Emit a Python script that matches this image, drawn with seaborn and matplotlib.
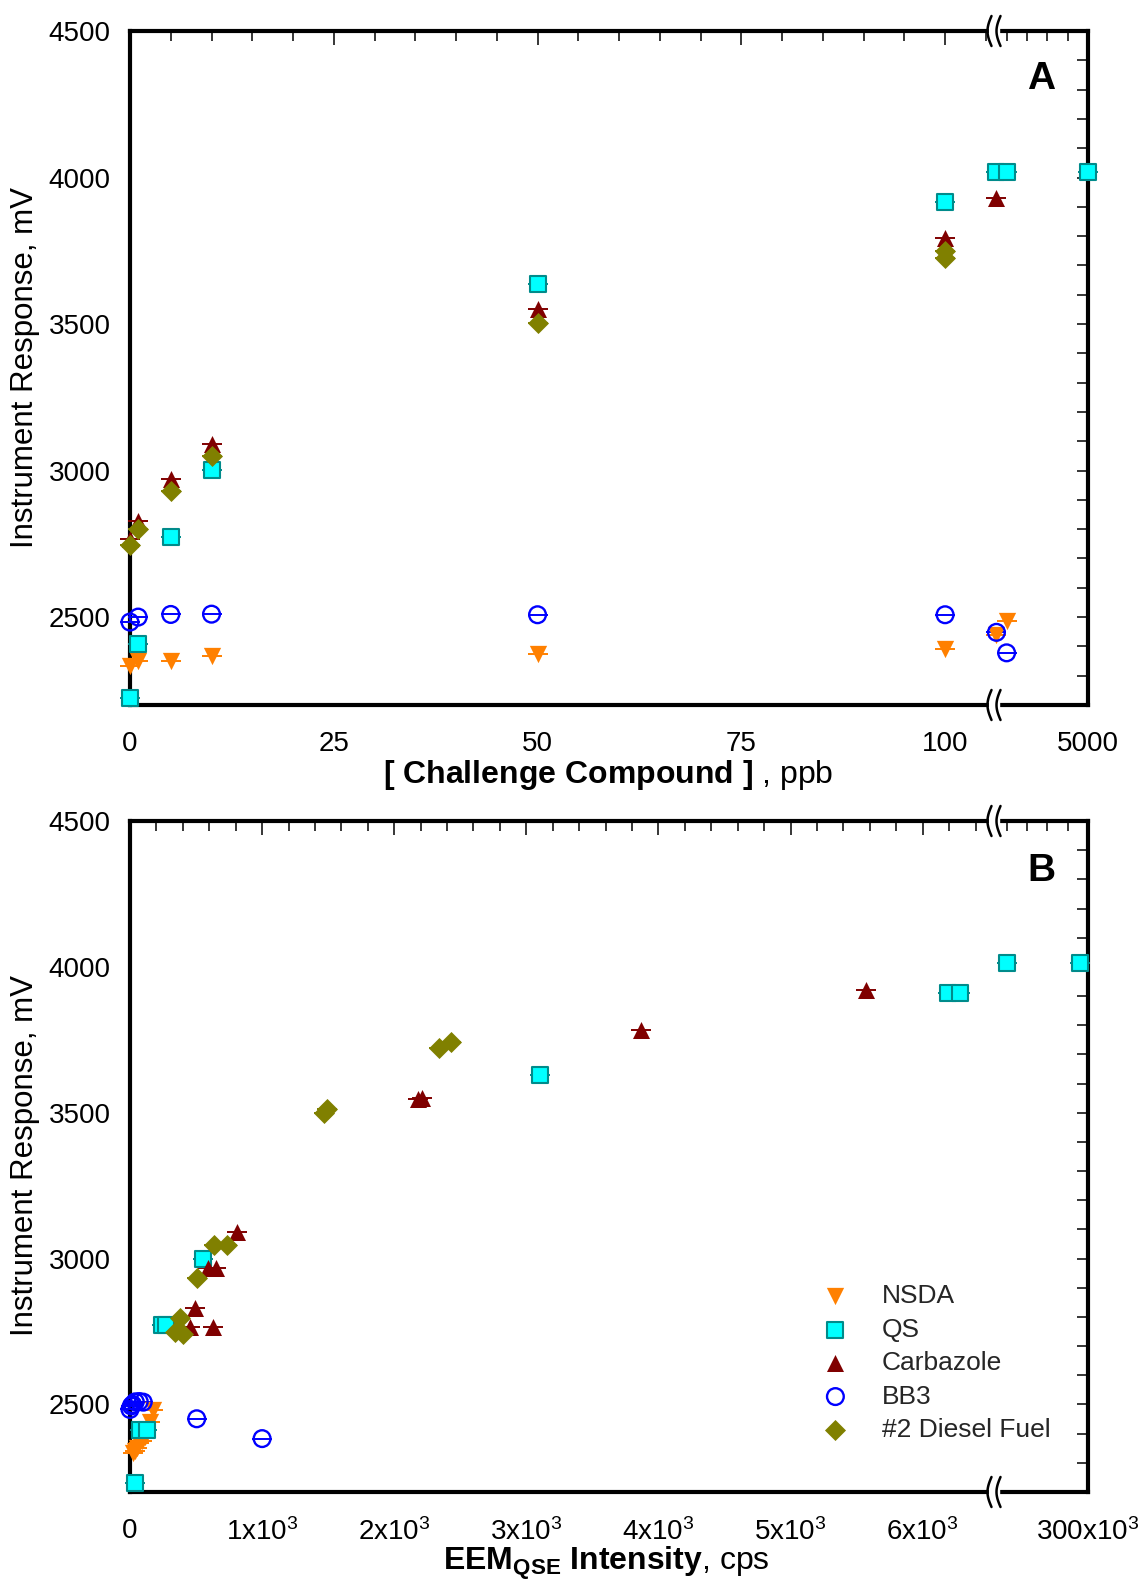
import numpy as np
import matplotlib
matplotlib.use("Agg")
import matplotlib.pyplot as plt
import seaborn as sns
from matplotlib.ticker import MultipleLocator, FixedLocator, NullFormatter, FuncFormatter
from matplotlib.lines import Line2D
from matplotlib.patches import Rectangle

sns.set_theme(style="white")
plt.rcParams['font.family'] = ['Liberation Sans', 'DejaVu Sans']
plt.rcParams['mathtext.fontset'] = 'custom'
plt.rcParams['mathtext.rm'] = 'Liberation Sans'
plt.rcParams['mathtext.bf'] = 'Liberation Sans:bold'
plt.rcParams['mathtext.it'] = 'Liberation Sans:italic'

# ---- panel A: response vs concentration (ppb) ----
a_nsda_x = [0, 1, 5, 10, 50, 100, 500, 1000]
a_nsda_y = [2333, 2350, 2350, 2368, 2375, 2390, 2440, 2485]
a_qs_x = [0, 1, 5, 10, 50, 100, 500, 1000, 5000]
a_qs_y = [2224, 2409, 2772, 3002, 3635, 3917, 4020, 4020, 4020]
a_carb_x = [0, 1, 5, 10, 50, 100, 500]
a_carb_y = [2765, 2828, 2971, 3092, 3552, 3792, 3930]
a_bb3_x = [0, 1, 5, 10, 50, 100, 500, 1000]
a_bb3_y = [2483, 2500, 2509, 2510, 2508, 2508, 2448, 2378]
a_dsl_x = [0, 1, 5, 10, 50, 100, 100]
a_dsl_y = [2747, 2799, 2931, 3051, 3504, 3725, 3750]

# ---- panel B: response vs EEM_QSE intensity (cps) ----
b_nsda_x = [25, 40, 50, 70, 90, 110, 150, 175]
b_nsda_y = [2333, 2340, 2352, 2368, 2375, 2390, 2440, 2480]
b_qs_x = [38, 76, 126, 240, 275, 556, 3105, 6190, 6280, 100000, 280000]
b_qs_y = [2230, 2412, 2412, 2774, 2774, 3000, 3630, 3912, 3912, 4014, 4014]
b_carb_x = [456, 494, 630, 592, 653, 810, 2180, 2210, 3867, 5573]
b_carb_y = [2767, 2832, 2764, 2969, 2969, 3092, 3548, 3552, 3784, 3921]
b_bb3_x = [0, 10, 20, 40, 70, 100, 505, 1000]
b_bb3_y = [2483, 2495, 2500, 2509, 2510, 2508, 2451, 2383]
b_dsl_x = [342, 380, 403, 506, 633, 734, 1466, 1490, 2341, 2430]
b_dsl_y = [2750, 2798, 2740, 2935, 3048, 3048, 3500, 3512, 3721, 3744]

names = ["NSDA", "QS", "Carbazole", "BB3", "#2 Diesel Fuel"]
styles = {
    "NSDA": dict(marker="v", s=155, color="#FF8000", edgecolor="#FF8000", linewidth=0),
    "QS": dict(marker="s", s=130, color="#00FFFF", edgecolor="#008B8B", linewidth=1.5),
    "Carbazole": dict(marker="^", s=150, color="#800000", edgecolor="#800000", linewidth=0),
    "BB3": dict(marker="o", s=145, facecolor="none", edgecolor="#0000FF", linewidth=1.7),
    "#2 Diesel Fuel": dict(marker="D", s=115, color="#808000", edgecolor="#808000", linewidth=0),
}
whisker_col = {"NSDA": "#FF8000", "QS": "#008B8B", "Carbazole": "#800000",
               "BB3": "#0000FF", "#2 Diesel Fuel": "#808000"}

panel_a = {"NSDA": (a_nsda_x, a_nsda_y), "QS": (a_qs_x, a_qs_y), "Carbazole": (a_carb_x, a_carb_y),
           "BB3": (a_bb3_x, a_bb3_y), "#2 Diesel Fuel": (a_dsl_x, a_dsl_y)}
panel_b = {"NSDA": (b_nsda_x, b_nsda_y), "QS": (b_qs_x, b_qs_y), "Carbazole": (b_carb_x, b_carb_y),
           "BB3": (b_bb3_x, b_bb3_y), "#2 Diesel Fuel": (b_dsl_x, b_dsl_y)}

W, H = 1143, 1584
fig = plt.figure(figsize=(W / 100, H / 100), dpi=100)

XL, XB, XR = 130, 994, 1088  # pixel columns: left edge, break, right edge


def fmt_k(v, pos):
    if abs(v) < 1e-9:
        return "0"
    return f"{int(round(v / 1000))}x10$^3$"


def style(ax, left_part):
    for s in ax.spines.values():
        s.set_linewidth(3)
        s.set_color("black")
    ax.set_facecolor("none")
    ax.tick_params(axis="x", which="major", direction="inout", length=14, width=1.3,
                   labelsize=20, pad=12, top=False, colors="black")
    ax.tick_params(axis="x", which="minor", direction="in", length=7, width=1.3, top=False)
    if left_part:
        ax.spines["right"].set_visible(False)
        ax.tick_params(axis="y", which="major", direction="inout", length=14, width=1.3,
                       labelsize=20, pad=7, right=False, colors="black")
        ax.tick_params(axis="y", which="minor", direction="inout", length=9, width=1.3, right=False)
        ax.yaxis.set_major_locator(MultipleLocator(500))
        ax.yaxis.set_minor_locator(MultipleLocator(100))
    else:
        ax.spines["left"].set_visible(False)
        ax.yaxis.tick_right()
        ax.yaxis.set_major_locator(MultipleLocator(500))
        ax.yaxis.set_minor_locator(MultipleLocator(100))
        ax.tick_params(axis="y", which="major", direction="in", length=8, width=1.3,
                       labelright=False, left=False)
        ax.tick_params(axis="y", which="minor", direction="in", length=8, width=1.3, left=False)
    sec = ax.secondary_xaxis("top")
    sec.xaxis.set_major_locator(ax.xaxis.get_major_locator())
    sec.xaxis.set_minor_locator(ax.xaxis.get_minor_locator())
    sec.xaxis.set_major_formatter(NullFormatter())
    sec.tick_params(which="major", direction="in", length=10, width=1.3)
    sec.tick_params(which="minor", direction="in", length=7, width=1.3)
    for s in sec.spines.values():
        s.set_visible(False)


def draw_series(ax, data, lo, hi, labels=False):
    for name in names:
        x = np.asarray(data[name][0], dtype=float)
        y = np.asarray(data[name][1], dtype=float)
        m = (x >= lo) & (x <= hi)
        if not m.any():
            continue
        ax.plot(x[m], y[m], ls="none", marker="_", ms=14.5, mew=1.4,
                color=whisker_col[name], clip_on=False, zorder=3)
        sns.scatterplot(x=x[m], y=y[m], ax=ax, label=name if labels else None,
                        clip_on=False, zorder=4, legend=False, **styles[name])


def break_mark(xp, yp):
    fig.add_artist(Rectangle(((xp - 5) / W, 1 - (yp + 5) / H), 10 / W, 10 / H,
                             transform=fig.transFigure, color="white", zorder=5))
    t = np.linspace(-1, 1, 50)
    for off in (-4.5, 4.5):
        xs = xp + off - 4 * np.cos(np.pi / 2 * t) + 2
        ys = yp + 15 * t
        fig.add_artist(Line2D(xs / W, 1 - ys / H, transform=fig.transFigure,
                              color="black", lw=1.8, zorder=6))


def panel(top_px, bot_px, data, lim_left, lim_right, maj_l, min_l, maj_r, min_r, fmt, labels=False):
    b = 1 - bot_px / H
    h = (bot_px - top_px) / H
    axl = fig.add_axes([XL / W, b, (XB - XL) / W, h])
    axr = fig.add_axes([XB / W, b, (XR - XB) / W, h], sharey=axl)
    axl.set_xlim(*lim_left)
    axr.set_xlim(*lim_right)
    axl.set_ylim(2200, 4500)
    axl.xaxis.set_major_locator(maj_l)
    axl.xaxis.set_minor_locator(min_l)
    axr.xaxis.set_major_locator(maj_r)
    axr.xaxis.set_minor_locator(min_r)
    if fmt is not None:
        axl.xaxis.set_major_formatter(FuncFormatter(fmt))
        axr.xaxis.set_major_formatter(FuncFormatter(fmt))
    style(axl, True)
    style(axr, False)
    draw_series(axl, data, lim_left[0] - 1, lim_left[1], labels)
    draw_series(axr, data, lim_right[0], lim_right[1] + 1)
    axl.set_xlabel("")
    axl.set_ylabel("")
    axr.set_xlabel("")
    axr.set_ylabel("")
    break_mark(XB, top_px)
    break_mark(XB, bot_px)
    return axl, axr


# Panel A
aA, aA2 = panel(31, 705, panel_a, (0, 106), (380, 5000),
                MultipleLocator(25), MultipleLocator(5),
                FixedLocator([5000]), FixedLocator([1000, 2000, 3000, 4000]), None)
# Panel B
bA, bA2 = panel(821, 1492, panel_b, (0, 6540), (68000, 300000),
                MultipleLocator(1000), MultipleLocator(200),
                FixedLocator([300000]), FixedLocator([100000, 150000, 200000, 250000]),
                fmt_k, labels=True)

handles, labs = bA.get_legend_handles_labels()
fig.legend(handles, labs, loc="upper left", bbox_to_anchor=(809 / W, 1 - 1284 / H),
           bbox_transform=fig.transFigure, frameon=False, fontsize=19,
           borderpad=0, borderaxespad=0, labelspacing=0.36, handletextpad=0.75,
           handlelength=2.0, scatterpoints=1)

# axis titles and panel letters
for yc in (368, 1156):
    fig.text(25 / W, 1 - yc / H, "Instrument Response, mV", rotation=90,
             ha="center", va="center", fontsize=22.5, color="black")
fig.text(608 / W, 1 - 775 / H, r"$\bf{[\ Challenge\ Compound\ ]}$ , ppb",
         ha="center", va="center", fontsize=23, color="black")
fig.text(606 / W, 1 - 1563 / H, r"$\bf{EEM_{QSE}\ Intensity}$, cps",
         ha="center", va="center", fontsize=23, color="black")
fig.text(1041 / W, 1 - 79 / H, "A", ha="center", va="center", fontsize=28,
         fontweight="bold", color="black")
fig.text(1041 / W, 1 - 871 / H, "B", ha="center", va="center", fontsize=28,
         fontweight="bold", color="black")

fig.savefig("out.png", dpi=100, facecolor="white")
